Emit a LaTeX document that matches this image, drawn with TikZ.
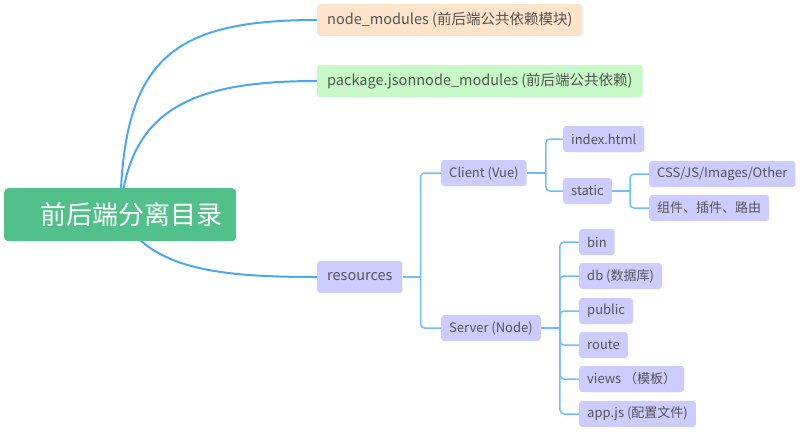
\documentclass[tikz,border=0pt]{standalone}
\usepackage{fontspec}
\setmainfont{Noto Sans CJK SC}
\usetikzlibrary{positioning, calc, backgrounds}

\definecolor{rootgreen}{HTML}{52C08A}
\definecolor{peach}{HTML}{FDE3CA}
\definecolor{mint}{HTML}{C6F9C6}
\definecolor{lav}{HTML}{CCCCFF}
\definecolor{txtgray}{HTML}{555555}
\definecolor{mainblue}{HTML}{4AA8F0}
\definecolor{subblue}{HTML}{6CBEFF}

\tikzset{
  topic/.style={fill=#1, rounded corners=3pt, text=txtgray, anchor=west,
    font=\fontsize{14.5}{17}\selectfont, minimum height=32pt, inner xsep=10pt},
  leaf/.style={fill=lav, rounded corners=3pt, text=txtgray, anchor=west,
    font=\fontsize{13}{15}\selectfont, minimum height=26pt, inner xsep=8pt},
  mainline/.style={draw=mainblue, line width=2pt},
  subline/.style={draw=subblue, line width=1.5pt, rounded corners=4pt},
}

\begin{document}
\begin{tikzpicture}[x=1pt, y=1pt]
    \useasboundingbox (0,0) rectangle (800,-431);

    % root
    \node[fill=rootgreen, rounded corners=4pt, anchor=north west, minimum width=232pt,
          minimum height=53pt, text=white, font=\fontsize{26}{30}\selectfont]
          (root) at (4,-188) {\hspace*{22pt}前后端分离目录};

    % first level
    \node[topic=peach] (modules) at (317,-20) {node\_modules (前后端公共依赖模块)};
    \node[topic=mint] (pkg) at (317,-81) {package.jsonnode\_modules (前后端公共依赖)};
    \node[topic=lav] (res) at (317,-277) {resources};

    % client
    \node[leaf] (client) at (441,-173) {Client (Vue)};
    \node[leaf] (index) at (563,-139) {index.html};
    \node[leaf] (static) at (563,-191) {static};
    \node[leaf] (css) at (649,-174) {CSS/JS/Images/Other};
    \node[leaf] (comp) at (649,-208) {组件、插件、路由};

    % server
    \node[leaf] (server) at (441,-328) {Server (Node)};
    \node[leaf] (bin) at (579,-242) {bin};
    \node[leaf] (db) at (579,-276) {db (数据库)};
    \node[leaf] (public) at (579,-311) {public};
    \node[leaf] (route) at (579,-345) {route};
    \node[leaf] (views) at (579,-379) {views （模板）};
    \node[leaf] (app) at (579,-414) {app.js (配置文件)};

    \begin{scope}[on background layer]
        \draw[mainline] (root.center) .. controls (122,-60) and (170,-20) .. (modules.west);
        \draw[mainline] (root.center) .. controls (128,-110) and (190,-81) .. (pkg.west);
        \draw[mainline] (root.center) .. controls (150,-270) and (220,-277) .. (res.west);
    \end{scope}

    \coordinate (resfork) at ([xshift=18pt]res.east);
    \coordinate (clientfork) at ([xshift=19pt]client.east);
    \coordinate (staticfork) at ([xshift=18pt]static.east);
    \coordinate (serverfork) at ([xshift=19pt]server.east);

    \draw[subline] (res.east) -- (resfork);
    \draw[subline] (resfork) |- (client.west);
    \draw[subline] (resfork) |- (server.west);

    \draw[subline] (client.east) -- (clientfork);
    \foreach \n in {index, static}
        \draw[subline] (clientfork) |- (\n.west);

    \draw[subline] (static.east) -- (staticfork);
    \foreach \n in {css, comp}
        \draw[subline] (staticfork) |- (\n.west);

    \draw[subline] (server.east) -- (serverfork);
    \foreach \n in {bin, db, public, route, views, app}
        \draw[subline] (serverfork) |- (\n.west);
\end{tikzpicture}
\end{document}
